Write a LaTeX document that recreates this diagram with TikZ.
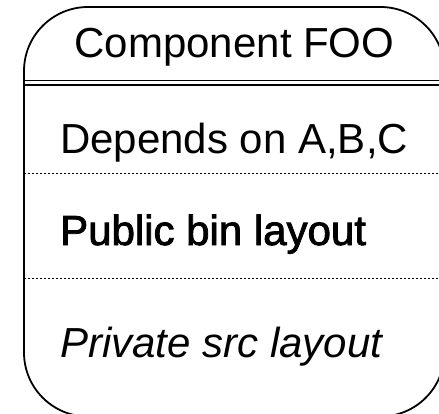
\documentclass[tikz,border=0pt]{standalone}
\usepackage{fontspec}
\setmainfont{Liberation Sans}
\newfontfamily\heavyfont[FakeBold=2]{Liberation Sans}
\begin{document}
\begin{tikzpicture}[x=1pt,y=-1pt,
  frame/.style={draw=black,line width=1.8pt,rounded corners=64pt},
  rule/.style={draw=black,line width=1.9pt},
  sep/.style={draw=black,line width=0.8pt,dash pattern=on 2pt off 2pt},
  label/.style={inner sep=0pt,font=\fontsize{42}{48}\selectfont}]
\useasboundingbox (0,0) rectangle (439,414);
\clip (0,0) rectangle (439,414);
% outer body, running past the right and bottom edges
\path[frame] (24,7) rectangle (444.5,416.5);
% double rule under the title
\path[rule] (24,80.5) -- (444.5,80.5);
\path[rule] (24,85) -- (444.5,85);
% dotted compartment separators
\path[sep] (24,173) -- (444.5,173);
\path[sep] (24,278) -- (444.5,278);
% texts
\node[label,anchor=base] (title) at (234.5,58) {Component FOO};
\node[label,anchor=base west] (deps) at (60,154) {Depends on A,B,C};
\node[label,anchor=base west] (pub) at (60,245) {\heavyfont Public bin layout};
\node[label,anchor=base west] (priv) at (60,357) {\itshape Private src layout};
\end{tikzpicture}
\end{document}
